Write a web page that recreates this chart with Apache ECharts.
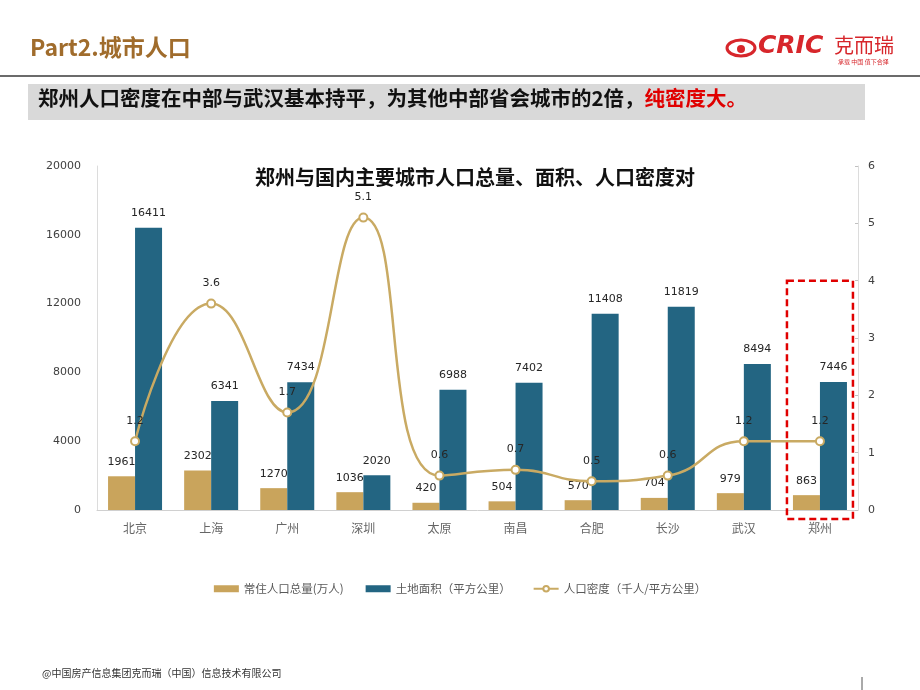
<!DOCTYPE html>
<html><head><meta charset="utf-8">
<script src="https://cdn.jsdelivr.net/npm/echarts@6/dist/echarts.min.js"></script>
<style>html,body{margin:0;padding:0;background:#fff}#c{width:920px;height:690px}</style>
</head><body><div id="c"></div>
<script>
const categories = ['北京','上海','广州','深圳','太原','南昌','合肥','长沙','武汉','郑州'];
const population = [1961,2302,1270,1036,420,504,570,704,979,863];
const area = [16411,6341,7434,2020,6988,7402,11408,11819,8494,7446];
const density = [1.2,3.6,1.7,5.1,0.6,0.7,0.5,0.6,1.2,1.2];
const leftTicks = [0,4000,8000,12000,16000,20000];
const rightTicks = [0,1,2,3,4,5,6];

const FONT = '"Noto Sans CJK SC","Noto Sans",sans-serif';
const NUM = '"DejaVu Sans",sans-serif';
const GOLD = '#c9a45c', BLUE = '#236582', LINE = '#c9aa63';
const chart = echarts.init(document.getElementById('c'), null, {renderer:'canvas'});

const numLabel = {show:true, position:'top', distance:9, color:'#262626', fontSize:11, fontFamily:NUM};
const option = {
  backgroundColor:'#fff',
  textStyle:{fontFamily:FONT},
  animation:false,
  title:{text:'郑州与国内主要城市人口总量、面积、人口密度对', left:470, textAlign:'center', top:162,
    textStyle:{fontSize:20, fontWeight:'bold', color:'#111', fontFamily:FONT}},
  legend:{top:578, left:'center', itemWidth:25, itemHeight:7, itemGap:22,
    textStyle:{fontSize:11.5, color:'#595959', fontFamily:FONT},
    data:[{name:'常住人口总量(万人)', icon:'rect'},{name:'土地面积（平方公里）', icon:'rect'},{name:'人口密度（千人/平方公里）'}]},
  grid:{left:97, right:62, top:166, bottom:180, containLabel:false},
  xAxis:{type:'category', data:categories, boundaryGap:true,
    axisLine:{lineStyle:{color:'#d0d0d0'}}, axisTick:{show:false},
    axisLabel:{color:'#666', fontSize:12, margin:12, fontFamily:FONT}},
  yAxis:[
    {type:'value', min:leftTicks[0], max:leftTicks[leftTicks.length-1], interval:4000, position:'left',
     axisLine:{show:true, lineStyle:{color:'#dcdcdc'}}, axisTick:{show:false}, splitLine:{show:false},
     axisLabel:{color:'#404040', fontSize:11, margin:16, fontFamily:NUM, formatter:v=>String(v)}},
    {type:'value', min:rightTicks[0], max:rightTicks[rightTicks.length-1], interval:1, position:'right',
     axisLine:{show:true, lineStyle:{color:'#dcdcdc'}}, axisTick:{show:true, inside:true, length:3, lineStyle:{color:'#c0c0c0'}}, splitLine:{show:false},
     axisLabel:{color:'#404040', fontSize:11, margin:10, fontFamily:NUM}}
  ],
  series:[
    {name:'常住人口总量(万人)', type:'bar', data:population, barWidth:27, barGap:'0%', itemStyle:{color:GOLD}, label:numLabel},
    {name:'土地面积（平方公里）', type:'bar', data:area, barWidth:27, barGap:'0%', itemStyle:{color:BLUE}, label:numLabel},
    {name:'人口密度（千人/平方公里）', type:'line', yAxisIndex:1, data:density, smooth:0.5, z:5,
     symbol:'emptyCircle', symbolSize:8, lineStyle:{color:LINE, width:2.5}, itemStyle:{color:LINE, borderWidth:1.5, borderColor:LINE},
     label:Object.assign({}, numLabel, {distance:10})}
  ],
  graphic:[
    {type:'text', left:30, top:36, style:{text:'Part2.城市人口', font:'bold 23px '+FONT, fill:'#a06c2c'}},
    {type:'line', shape:{x1:0,y1:76,x2:920,y2:76}, style:{stroke:'#3a3a3a', lineWidth:1.5}},
    {type:'rect', shape:{x:28,y:84,width:837,height:36}, style:{fill:'#d9d9d9'}},
    {type:'text', left:38, top:88, style:{rich:{a:{font:'bold 20.5px '+FONT, fill:'#111'}, b:{font:'bold 20.5px '+FONT, fill:'#e00000'}},
      text:'{a|郑州人口密度在中部与武汉基本持平，为其他中部省会城市的2倍，}{b|纯密度大。}'}},
    // logo
    {type:'ellipse', shape:{cx:741,cy:48,rx:14,ry:8}, style:{fill:'none', stroke:'#d7262b', lineWidth:3}},
    {type:'circle', shape:{cx:741,cy:49,r:4}, style:{fill:'#d7262b'}},
    {type:'text', left:758, top:34, style:{text:'CRIC', font:'italic 900 25px "DejaVu Sans",sans-serif', fill:'#d7262b'}},
    {type:'text', left:834, top:35, style:{text:'克而瑞', font:'20px '+FONT, fill:'#d7262b'}},
    {type:'text', left:838, top:59, style:{text:'承载 中国 值下合择', font:'6px '+FONT, fill:'#d7262b'}},
    // footer
    {type:'text', left:42, top:668, style:{text:'@中国房产信息集团克而瑞（中国）信息技术有限公司', font:'10px '+FONT, fill:'#333'}},
    {type:'line', shape:{x1:862,y1:677,x2:862,y2:690}, style:{stroke:'#555', lineWidth:1}}
  ]
};
chart.setOption(option);

// dashed highlight box around 郑州, positioned via the axes
const last = categories.length-1;
const cx = chart.convertToPixel({xAxisIndex:0}, categories[last]);
const yTop = chart.convertToPixel({yAxisIndex:1}, 4);
const yBase = chart.convertToPixel({yAxisIndex:1}, 0);
const g = option.graphic.slice();
g.push({type:'rect', shape:{x:cx-33, y:yTop, width:66, height:(yBase-yTop)+9},
  style:{fill:'none', stroke:'#e00000', lineWidth:2.5, lineDash:[7,4]}, z:10});
chart.setOption({graphic:g}, {replaceMerge:['graphic']});
</script></body></html>
